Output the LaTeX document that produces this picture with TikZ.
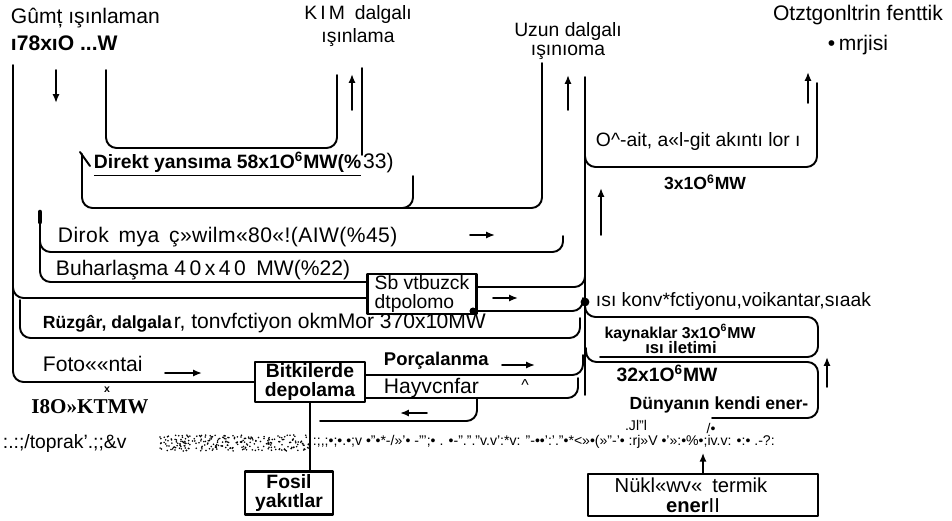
\documentclass[tikz,border=0pt]{standalone}
\usepackage{fontspec}
\setmainfont{Liberation Sans}
\newfontfamily\serifbf{Liberation Serif}
\usetikzlibrary{arrows.meta}
\begin{document}
\begin{tikzpicture}[x=0.02cm, y=-0.02cm, line width=1.1pt, line cap=round, line join=round,
  flow/.style={rounded corners=6pt},
  arr/.style={-{Latex[length=5pt,width=4pt]}, line width=1pt},
  t12/.style={inner sep=0pt, anchor=west, font=\fontsize{12}{13}\selectfont},
  t11/.style={inner sep=0pt, anchor=west, font=\fontsize{11}{12}\selectfont},
  b10/.style={inner sep=0pt, anchor=west, font=\fontsize{10}{11}\selectfont\bfseries},
  boxn/.style={draw, line width=1.4pt, inner sep=0pt, align=center}]
\useasboundingbox (0,0) rectangle (952,520);
\fill[white] (0,0) rectangle (952,520);

% ---------- top labels ----------
\node[t12] (gunes) at (10,18) {Gûmț ışınlaman};
\node[inner sep=0pt, anchor=west, font=\fontsize{12}{13}\selectfont\bfseries] (gunesguc) at (10,43) {ı78xıO ...W};
\node[inner sep=0pt, align=center, font=\fontsize{11}{13}\selectfont] (kisa) at (358,26) {K\,I\,M\enspace dalgalı\\ışınlama};
\node[inner sep=0pt, align=center, font=\fontsize{11}{10.5}\selectfont] (uzun) at (568,41) {Uzun dalgalı\\ışınıoma};
\node[inner sep=0pt, align=center, font=\fontsize{12}{17}\selectfont] (gelgitenerji) at (858,30) {Otztgonltrin fenttik\\•\,mrjisi};

% ---------- boxes ----------
\node[boxn, minimum width=2.18cm, minimum height=0.8cm, font=\fontsize{11}{11}\selectfont, align=left] (sb) at (422,294) {Sb vtbuzck\\dtpolomo};
\node[boxn, minimum width=2.2cm, minimum height=0.8cm, font=\fontsize{11}{10.5}\selectfont\bfseries] (bitki) at (310,382) {Bitkilerde\\depolama};
\node[boxn, minimum width=1.76cm, minimum height=0.86cm, font=\fontsize{11}{10.5}\selectfont\bfseries] (fosil) at (289,493) {Fosil\\yakıtlar};
\node[boxn, minimum width=4.6cm, minimum height=0.84cm] (nuk) at (703,495) {};
\node[inner sep=0pt, font=\fontsize{11.5}{12}\selectfont] (nuk1) at (691,485) {Nükl«wv«\enspace termik};
\node[inner sep=0pt, font=\fontsize{11.5}{12}\selectfont] (nuk2) at (693,506) {\textbf{ener}II};

% ---------- incoming solar band ----------
\draw[flow] (13,65) -- (13,382) -- (bitki.west);
\draw[arr] (56,70) -- (56,103);

% ---------- direct reflection ----------
\draw[flow] (106,70) -- (106,148) -- (337,148) -- (337,75);
\draw[arr] (352,110) -- (352,74);
\draw (362,68) -- (362,155);
\node[inner sep=0pt, anchor=west, font=\fontsize{11}{12}\selectfont\bfseries] (direkt) at (93,164) {\underline{Direkt yansıma 58x1O\textsuperscript{6}MW(\%}};
\node[inner sep=0pt, anchor=base west, font=\fontsize{12}{13}\selectfont] (direkt2) at (direkt.base east) {33)};
\draw (80,152) -- (90,166);
\draw[flow] (82,154) -- (82,208) -- (542,208) -- (542,63);
\draw[flow] (413,176) -- (413,208) -- (395,208);

% ---------- direct heat ----------
\draw[line width=2.6pt] (40,212) -- (40,222);
\draw[flow] (40,213) -- (40,282) -- (sb.west |- 0,282);
\draw[flow] (40,235) -- (40,252) -- (563,252) -- (563,236);
\node[inner sep=0pt, anchor=west, font=\fontsize{12}{13}\selectfont\addfontfeatures{LetterSpace=2}] (dirok) at (57,237) {Dirok\, mya\, ç»wilm«80«!(AIW(\%45)};
\draw[arr] (470,235) -- (495,235);

% ---------- evaporation ----------
\node[t12] (buhar) at (55,270) {Buharlaşma 4\,0\,x\,4\,0\enspace MW(\%22)};
\draw[flow] (13,284) -- (13,298) -- (sb.west |- 0,298);
\draw[flow] (sb.east |- 0,287) -- (585,287) -- (585,270);
\draw[arr] (493,298) -- (518,298);
\draw[flow] (sb.east |- 0,311) -- (583,311) -- (583,298);
\fill (473,311) circle (2pt);

% ---------- long wave column ----------
\draw (585,77) -- (585,395);
\draw[arr] (568,110) -- (568,75);
\draw[arr] (601,235) -- (601,188);

% ---------- tides ----------
\draw[flow] (585,120) -- (585,167) -- (817,167) -- (817,83);
\draw[arr] (808,103) -- (808,72);
\node[t11] (gelgit) at (595,142) {O\textasciicircum-ait, a«l-git akıntı lor ı};
\node[b10, anchor=center] (gelgitmw) at (705,182) {3x1O\textsuperscript{6}MW};

% ---------- winds ----------
\draw[flow] (20,300) -- (20,338) -- (580,338) -- (580,318);
\node[inner sep=0pt, anchor=west, font=\fontsize{10}{11}\selectfont\bfseries] (ruz) at (42,324) {Rüzgâr, dalgala};
\node[inner sep=0pt, anchor=base west, font=\fontsize{12}{13}\selectfont] (ruz2) at (ruz.base east) {r, tonvfctiyon okmMor 370x1\kern-0.5pt0MW};

% ---------- photosynthesis ----------
\node[t12] (foto) at (42,364) {Foto««ntai};
\draw[arr] (165,373) -- (202,373);
\node[inner sep=0pt, font=\serifbf\bfseries\fontsize{12}{13}\selectfont] (k180) at (90,407) {I8O»KTMW};
\node[inner sep=0pt, font=\fontsize{6}{6}\selectfont\bfseries] (k180m) at (107,390) {x};

% ---------- decay / animals ----------
\node[inner sep=0pt, anchor=west, font=\fontsize{10.5}{11}\selectfont\bfseries] (porc) at (383,361) {Porçalanma};
\draw[arr] (502,365) -- (535,365);
\draw[flow] (bitki.east |- 0,375) -- (583,375) -- (583,355);
\node[t12] (hayv) at (383,388) {Hayvcnfar};
\node[inner sep=0pt, font=\fontsize{9}{9}\selectfont] (caret) at (525,385) {\textasciicircum};
\draw[flow] (bitki.east |- 0,398) -- (578,398) -- (578,378);
\draw[flow] (320,421) -- (477,421) -- (477,398);
\draw[arr] (427,413) -- (400,413);

% ---------- fossil ----------
\draw (bitki.south) -- (bitki.south |- fosil.north);

% ---------- earth's own energy ----------
\fill (585,302) circle (2.5pt);
\node[t11] (konv) at (595,302) {ısı konv*fctiyonu,voikantar,sıaak};
\draw[flow] (585,305) -- (585,317) -- (818,317) -- (818,357) -- (600,357);
\draw[flow] (586,348) -- (586,362) -- (818,362) -- (818,418) -- (712,418);
\draw[arr] (827,387) -- (827,357);
\node[inner sep=0pt, font=\fontsize{9}{10}\selectfont\bfseries] (kayn) at (680,333) {kaynaklar 3x1O\textsuperscript{6}MW};
\node[inner sep=0pt, font=\fontsize{9.5}{10}\selectfont\bfseries] (iletim) at (681,348) {ısı iletimi};
\node[inner sep=0pt, font=\fontsize{11}{12}\selectfont\bfseries] (iletmw) at (667,373) {32x1O\textsuperscript{6}MW};
\node[inner sep=0pt, font=\fontsize{10}{11}\selectfont\bfseries] (dunya) at (719,405) {Dünyanın kendi ener-};
\node[inner sep=0pt, font=\fontsize{8}{8}\selectfont] (dunya2) at (636,425) {.Jl"l};
\node[inner sep=0pt, font=\fontsize{8}{8}\selectfont] (dunya3) at (711,428) {/•};
\draw[arr] (nuk.north) -- ++(0,-20);

% ---------- soil ----------
\node[inner sep=0pt, anchor=west, font=\fontsize{11}{11}\selectfont] (toprak) at (2,443) {:.:;/toprak'.;;\&v};
\pgfmathsetseed{7}
\foreach \i in {1,...,260} {\fill ({160+150*rnd},{435+16*rnd}) circle (0.5pt);}
\node[inner sep=0pt, anchor=west, font=\fontsize{8}{8}\selectfont] (toprak2) at (312,442) {:;,;•;•.•;v •"•*-/»'• -"';• . •-"."."v.v':*v: "-••':'."•*<»•(»"-'• :rj»V •'»:•\%•;iv.v: •:• .-?:};
\end{tikzpicture}
\end{document}
